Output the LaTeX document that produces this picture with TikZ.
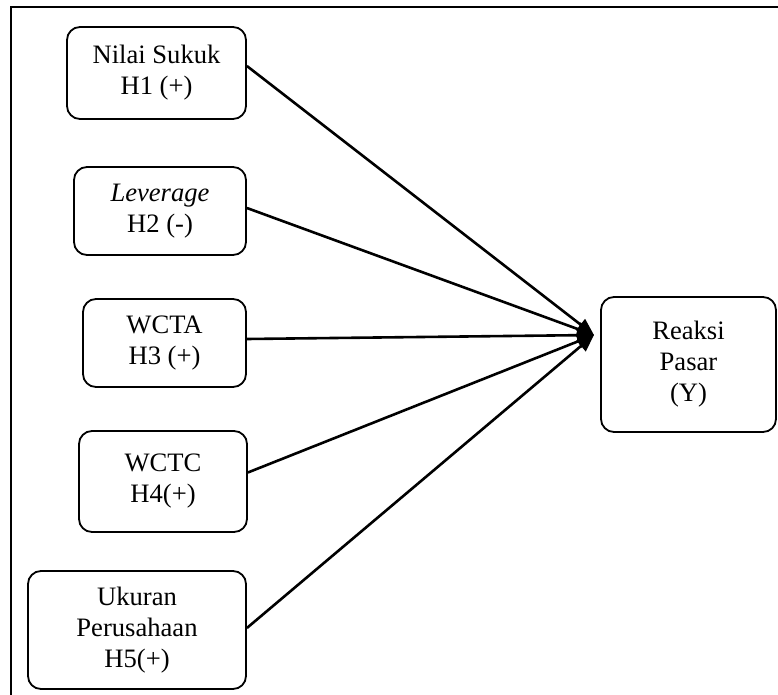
\documentclass[tikz,border=0pt]{standalone}
\usepackage{fontspec}
\setmainfont{Liberation Serif}
\usepackage{tikz}
\usetikzlibrary{arrows.meta}

\begin{document}
\begin{tikzpicture}[x=1pt, y=-1pt,
    var/.style={draw, line width=1.8pt, rounded corners=13pt, align=center,
        inner sep=0pt, font=\fontsize{26.6}{31}\selectfont},
    link/.style={line width=2.6pt, -{Triangle[length=17pt, width=14pt]}}]
    \useasboundingbox (0,0) rectangle (778,695);
    % Outer frame (only left and top edges are visible)
    \draw[line width=2.2pt] (11,695) -- (11,7) -- (778,7);

    % Independent variables
    \node[var, minimum width=179pt, minimum height=92pt] (nilai) at (156.5,73) {Nilai Sukuk\\H1 (+)};
    \node[var, minimum width=172pt, minimum height=88pt] (lev) at (160,211) {\textit{Leverage}\\H2 (-)};
    \node[var, minimum width=163pt, minimum height=88pt] (wcta) at (164.5,343) {WCTA\\H3 (+)};
    \node[var, minimum width=168pt, minimum height=101pt] (wctc) at (163,481.5) {WCTC\\H4(+)};
    \node[var, minimum width=218pt, minimum height=118pt] (ukuran) at (137,630) {Ukuran\\Perusahaan\\H5(+)};

    % Dependent variable
    \node[var, minimum width=175pt, minimum height=135pt] (reaksi) at (688.5,364.5) {Reaksi\\Pasar\\(Y)};

    % Arrows meet in front of the dependent variable
    \coordinate (hub) at (594,335);
    \draw[link] ([yshift=7pt]nilai.east) -- (hub);
    \draw[link] ([yshift=3pt]lev.east) -- (hub);
    \draw[link] ([yshift=4pt]wcta.east) -- (hub);
    \draw[link] ([yshift=9pt]wctc.east) -- (hub);
    \draw[link] ([yshift=2pt]ukuran.east) -- (hub);
\end{tikzpicture}
\end{document}
